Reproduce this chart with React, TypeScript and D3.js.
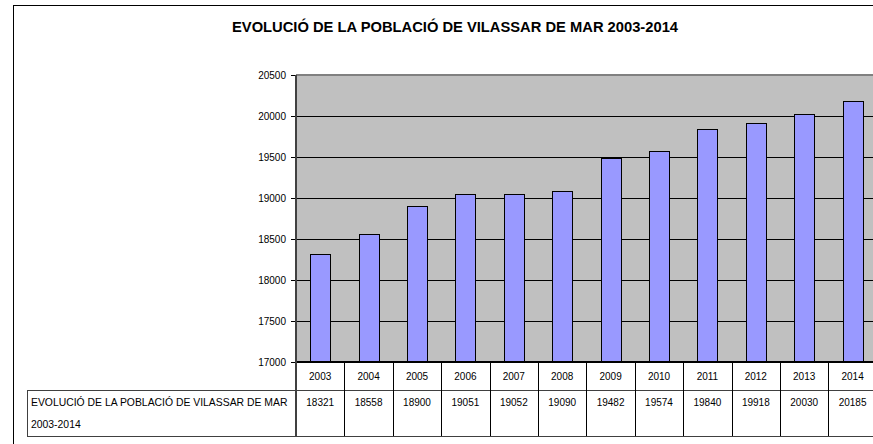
import React from 'react';
import * as d3 from 'd3';

const years = ['2003', '2004', '2005', '2006', '2007', '2008', '2009', '2010', '2011', '2012', '2013', '2014'];
const population = [18321, 18558, 18900, 19051, 19052, 19090, 19482, 19574, 19840, 19918, 20030, 20185];
const yTicks = [17000, 17500, 18000, 18500, 19000, 19500, 20000, 20500];
const title = 'EVOLUCIÓ DE LA POBLACIÓ DE VILASSAR DE MAR 2003-2014';
const rowLabel = ['EVOLUCIÓ DE LA POBLACIÓ DE VILASSAR DE MAR', '2003-2014'];

const App = () => {
  const W = 873;
  const H = 444;
  const plotLeft = 296;
  const colW = 48.4;
  const plotTop = 75;
  const plotBottom = 362;
  const yearRowBottom = 390;
  const tableBottom = 436;
  const tableLeft = 27;
  const plotRight = plotLeft + colW * years.length;

  const col = d3.scaleBand<string>().domain(years).range([plotLeft, plotRight]).padding(0);
  const bar = d3.scaleBand<string>().domain(years).range([plotLeft, plotRight])
    .paddingInner(0.59).paddingOuter(0.295);
  const y = d3.scaleLinear().domain([17000, 20500]).range([plotBottom, plotTop]);

  const font = 'Arial, "Liberation Sans", sans-serif';

  return (
    <svg width={W} height={H} style={{ position: 'fixed', left: 0, top: 0, background: '#fff' }}
      fontFamily={font}>
      {/* chart frame */}
      <rect x={13.5} y={5.5} width={W + 20} height={H + 20} fill="#fff" stroke="#000" strokeWidth={1} />
      <text x={455} y={32} textAnchor="middle" fontSize={14} fontWeight="bold" fill="#000"
        textLength={446} lengthAdjust="spacingAndGlyphs">{title}</text>

      {/* plot area */}
      <rect x={plotLeft} y={plotTop} width={plotRight - plotLeft} height={plotBottom - plotTop} fill="#c0c0c0" />
      {yTicks.slice(1, -1).map(t => (
        <line key={t} x1={plotLeft} x2={plotRight} y1={Math.round(y(t)) + 0.5} y2={Math.round(y(t)) + 0.5}
          stroke="#000" strokeWidth={1} />
      ))}
      <line x1={plotLeft} x2={plotRight} y1={plotTop} y2={plotTop} stroke="#808080" strokeWidth={2} />

      {population.map((v, i) => (
        <rect key={years[i]} x={Math.round(bar(years[i])!) + 0.5} y={Math.round(y(v)) + 0.5}
          width={Math.round(bar.bandwidth())} height={Math.round(plotBottom - y(v))}
          fill="#9999ff" stroke="#000" strokeWidth={1} />
      ))}

      {/* y axis */}
      {yTicks.map(t => (
        <g key={t}>
          <line x1={plotLeft - 5} x2={plotLeft} y1={Math.round(y(t)) + 0.5} y2={Math.round(y(t)) + 0.5}
            stroke="#000" strokeWidth={1} />
          <text x={plotLeft - 10} y={y(t)} dy="0.35em" textAnchor="end" fontSize={10} fill="#000">{t}</text>
        </g>
      ))}
      <line x1={plotLeft} x2={plotRight} y1={plotBottom} y2={plotBottom} stroke="#000" strokeWidth={2} />
      <line x1={plotLeft} x2={plotLeft} y1={plotTop} y2={tableBottom} stroke="#404040" strokeWidth={2} />

      {/* data table */}
      <line x1={tableLeft} x2={plotRight} y1={yearRowBottom + 0.5} y2={yearRowBottom + 0.5} stroke="#404040" strokeWidth={1} />
      <line x1={tableLeft} x2={plotRight} y1={tableBottom + 0.5} y2={tableBottom + 0.5} stroke="#404040" strokeWidth={1} />
      <line x1={tableLeft + 0.5} x2={tableLeft + 0.5} y1={yearRowBottom} y2={tableBottom} stroke="#404040" strokeWidth={1} />
      {years.slice(1).map(yr => (
        <line key={yr} x1={Math.round(col(yr)!) + 0.5} x2={Math.round(col(yr)!) + 0.5} y1={plotBottom} y2={tableBottom}
          stroke="#000" strokeWidth={1} />
      ))}
      {years.map((yr, i) => (
        <g key={yr} fontSize={10} fill="#000" textAnchor="middle">
          <text x={col(yr)! + col.bandwidth() / 2} y={380}>{yr}</text>
          <text x={col(yr)! + col.bandwidth() / 2} y={406}>{population[i]}</text>
        </g>
      ))}
      <text x={31} y={406} fontSize={10.4} fill="#000">{rowLabel[0]}</text>
      <text x={31} y={428} fontSize={10.4} fill="#000">{rowLabel[1]}</text>
    </svg>
  );
};

export default App;
